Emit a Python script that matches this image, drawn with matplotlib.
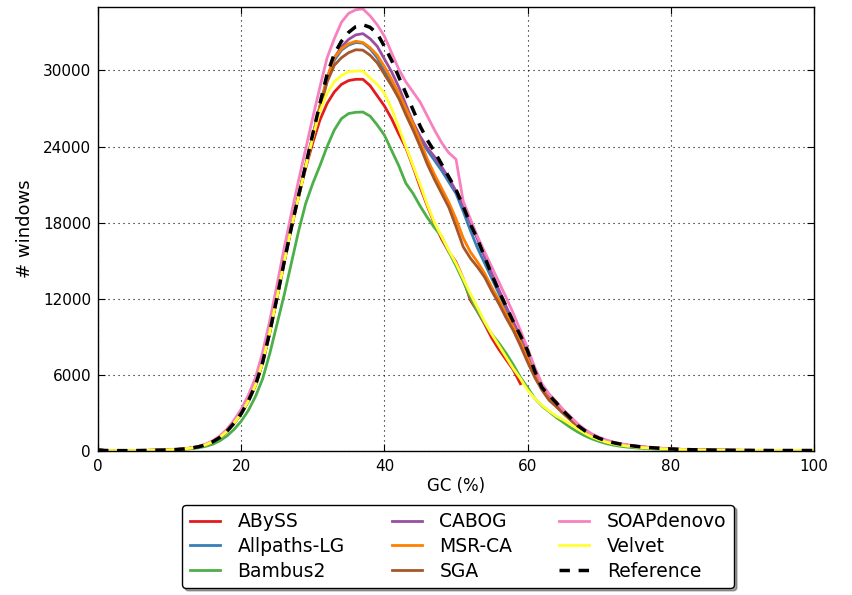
import numpy as np
import matplotlib
matplotlib.use("Agg")
import matplotlib.pyplot as plt

gc = np.arange(0, 101)

reference = [80, 40, 30, 30, 30, 30, 40, 50, 60, 70,
             90, 120, 160, 230, 330, 480, 720, 1060, 1550, 2200,
             2950, 3950, 5200, 7000, 9400, 12100, 14900, 17600, 20100, 22500,
             25000, 27400, 29700, 31300, 32300, 33000, 33450, 33600, 33400, 32900,
             31900, 30800, 29500, 28200, 26900, 25600, 24500, 23600, 22600, 21600,
             20600, 19300, 17900, 16700, 15300, 13900, 12600, 11400, 10200, 9100,
             7900, 6300, 5000, 4400, 3800, 3150, 2600, 2000, 1600, 1250,
             1000, 800, 650, 540, 450, 380, 320, 270, 230, 190,
             160, 135, 115, 100, 90, 80, 70, 65, 60, 55,
             50, 50, 45, 45, 40, 40, 40, 40, 40, 40, 40]

soapdenovo = [100, 40, 30, 30, 30, 30, 40, 50, 60, 75,
              95, 130, 175, 250, 360, 530, 800, 1180, 1720, 2430,
              3300, 4400, 5800, 7800, 10300, 13100, 16000, 18700, 21300, 23800,
              26300, 28700, 31000, 32500, 33800, 34500, 34780, 34850, 34300, 33600,
              32700, 31400, 30100, 29100, 28300, 27500, 26400, 25300, 24300, 23500,
              23000, 19700, 18300, 16900, 15700, 14500, 13300, 12100, 10850, 9500,
              8100, 6600, 5300, 4500, 3900, 3250, 2700, 2150, 1700, 1350,
              1080, 870, 700, 580, 480, 400, 340, 290, 250, 210,
              175, 145, 125, 110, 95, 85, 75, 70, 65, 60,
              55, 55, 50, 50, 45, 45, 45, 45, 45, 45, 45]

cabog = [80, 40, 30, 30, 30, 30, 40, 50, 60, 70,
         90, 120, 160, 230, 330, 480, 720, 1060, 1550, 2200,
         2950, 3950, 5200, 7000, 9400, 12100, 14900, 17600, 20100, 22500,
         24900, 27200, 29400, 31000, 31850, 32450, 32800, 32900, 32500, 31900,
         30900, 29900, 28700, 27300, 25900, 24800, 23900, 23200, 22400, 21500,
         20500, 19400, 18000, 16700, 15300, 14000, 12700, 11400, 10200, 9000,
         7800, 6300, 5000, 4300, 3700, 3100, 2550, 2000, 1600, 1250,
         1000, 800, 650, 540, 450, 380, 320, 270, 230, 190,
         160, 135, 115, 100, 90, 80, 70, 65, 60, 55,
         50, 50, 45, 45, 40, 40, 40, 40, 40, 40, 40]

allpaths = [80, 40, 30, 30, 30, 30, 40, 50, 60, 70,
            90, 120, 160, 230, 330, 480, 720, 1060, 1550, 2200,
            2950, 3950, 5200, 7000, 9400, 12100, 14900, 17600, 20100, 22500,
            24800, 27100, 29200, 30800, 31600, 32000, 32200, 32150, 31700, 31000,
            30000, 29000, 27900, 26800, 25600, 24600, 23700, 22900, 22100, 21200,
            20300, 18900, 17400, 16000, 14800, 13600, 12400, 11200, 9900, 8700,
            7400, 6100, 4900, 4200, 3600, 3000, 2500, 1950, 1550, 1200,
            1000, 800, 650, 540, 450, 380, 320, 270, 230, 190,
            160, 135, 115, 100, 90, 80, 70, 65, 60, 55,
            50, 50, 45, 45, 40, 40, 40, 40, 40, 40, 40]

msrca = [80, 40, 30, 30, 30, 30, 40, 50, 60, 70,
         90, 120, 160, 230, 330, 480, 720, 1060, 1550, 2200,
         2950, 3950, 5200, 7000, 9400, 12100, 14900, 17600, 20100, 22500,
         24800, 27200, 29400, 31000, 31700, 32100, 32300, 32200, 31800, 31200,
         30300, 29300, 28200, 27000, 25800, 24400, 23000, 21800, 20700, 19600,
         18300, 16800, 15700, 14900, 14000, 12900, 11900, 10800, 9800, 8600,
         7300, 6000, 4900, 4100, 3500, 2950, 2450, 1950, 1550, 1200,
         1000, 800, 650, 540, 450, 380, 320, 270, 230, 190,
         160, 135, 115, 100, 90, 80, 70, 65, 60, 55,
         50, 50, 45, 45, 40, 40, 40, 40, 40, 40, 40]

sga = [80, 40, 30, 30, 30, 30, 40, 50, 60, 70,
       90, 120, 160, 230, 330, 480, 720, 1060, 1550, 2200,
       2950, 3950, 5200, 7000, 9400, 12100, 14900, 17600, 20100, 22500,
       24700, 27000, 29100, 30400, 31000, 31400, 31630, 31600, 31200, 30600,
       29700, 28800, 27800, 26500, 25300, 24000, 22600, 21400, 20300, 19200,
       17700, 16100, 15200, 14500, 13700, 12600, 11600, 10500, 9500, 8300,
       7000, 5800, 4800, 4000, 3500, 2950, 2450, 1950, 1550, 1200,
       1000, 800, 650, 540, 450, 380, 320, 270, 230, 190,
       160, 135, 115, 100, 90, 80, 70, 65, 60, 55,
       50, 50, 45, 45, 40, 40, 40, 40, 40, 40, 40]

velvet = [80, 40, 30, 30, 30, 30, 40, 50, 60, 70,
          90, 120, 160, 230, 330, 480, 720, 1060, 1550, 2200,
          2950, 3950, 5200, 7000, 9400, 12100, 14900, 17600, 20000, 22400,
          24700, 26800, 28200, 29100, 29600, 29900, 29950, 29950, 29400, 28900,
          28200, 27000, 25500, 24000, 22500, 21000, 19400, 18000, 16900, 15800,
          14800, 13600, 12400, 11300, 10200, 9200, 8300, 7400, 6500, 5700,
          4800, 4150, 3600, 3150, 2750, 2450, 2100, 1750, 1400, 1100,
          880, 700, 560, 460, 380, 320, 270, 230, 195, 165,
          140, 120, 100, 90, 80, 70, 65, 60, 55, 50,
          50, 45, 45, 40, 40, 40, 40, 40, 40, 40, 40]

abyss = [80, 40, 30, 30, 30, 30, 40, 50, 60, 70,
         90, 120, 160, 230, 330, 480, 720, 1060, 1550, 2200,
         2950, 3950, 5200, 7000, 9400, 12100, 14900, 17600, 20000, 22300,
         24300, 26100, 27400, 28300, 28900, 29200, 29300, 29300, 28800, 28000,
         27200, 26200, 25000, 23900, 22400, 20800, 19300, 17900, 16700, 15700,
         14900, 13600, 11900, 11000, 10000, 8900, 8000, 7200, 6400, 5300]

bambus2 = [60, 30, 25, 25, 25, 25, 30, 40, 50, 60,
           75, 100, 130, 180, 250, 360, 530, 800, 1180, 1700,
           2350, 3200, 4300, 5700, 7700, 10000, 12300, 14800, 17300, 19500,
           21100, 22500, 24000, 25300, 26200, 26600, 26700, 26720, 26400, 25700,
           24900, 23700, 22500, 21100, 20300, 19300, 18400, 17600, 16900, 15700,
           14600, 13400, 12100, 11000, 10100, 9200, 8500, 7700, 6800, 5800,
           5000, 4150, 3550, 3100, 2650, 2250, 1850, 1500, 1200, 950,
           750, 580, 460, 370, 300, 250, 210, 175, 150, 125,
           105, 90, 80, 70, 60, 55, 50, 45, 45, 40,
           40, 40, 35, 35, 35, 35, 30, 30, 30, 30, 30]

series = [
    ("ABySS", abyss, "#e41a1c"),
    ("Allpaths-LG", allpaths, "#377eb8"),
    ("Bambus2", bambus2, "#4daf4a"),
    ("CABOG", cabog, "#984ea3"),
    ("MSR-CA", msrca, "#ff7f00"),
    ("SGA", sga, "#a65628"),
    ("SOAPdenovo", soapdenovo, "#f781bf"),
    ("Velvet", velvet, "#ffff33"),
]

plt.rcParams['font.family'] = ['DejaVu Sans']
fig = plt.figure(figsize=(8.52, 5.95), dpi=100)
ax = fig.add_axes([98/852, 1 - 451/595, (814 - 98)/852, (451 - 7)/595])

for name, vals, col in series:
    ax.plot(gc[:len(vals)], vals, color=col, lw=2, label=name)
ax.plot(gc, reference, color="black", lw=2.5, ls=(0, (3, 2.5)), label="Reference")

ax.set_xlim(0, 100)
ax.set_ylim(0, 35000)
ax.set_xticks([0, 20, 40, 60, 80, 100])
ax.set_yticks([0, 6000, 12000, 18000, 24000, 30000])
ax.tick_params(direction='in', top=True, right=True, labelsize=11, length=5)
ax.tick_params(axis='y', pad=5)
ax.tick_params(axis='x', pad=6)
ax.grid(True, ls=(0, (1, 3.5)), color='black', lw=0.8)
for s in ax.spines.values():
    s.set_linewidth(1.0)
ax.set_xlabel("GC (%)", fontsize=12, labelpad=2)
ax.set_ylabel("# windows", fontsize=13, labelpad=6)

leg = ax.legend(loc='upper center', bbox_to_anchor=(0.503, -0.1), ncol=3,
                fontsize=13.5, shadow=True, fancybox=True, frameon=True,
                handlelength=1.6, columnspacing=2.5, labelspacing=0.3,
                handletextpad=0.95, borderpad=0.4)
leg.get_frame().set_edgecolor('black')
leg.get_frame().set_linewidth(1.0)

fig.savefig("out.png", dpi=100)
